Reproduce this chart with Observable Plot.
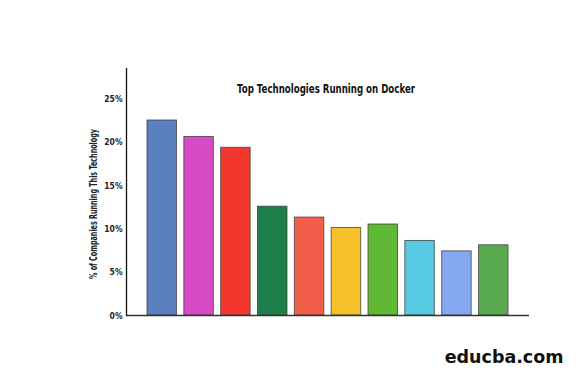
<!DOCTYPE html>
<html><head><meta charset="utf-8">
<script src="https://cdn.jsdelivr.net/npm/d3@7"></script>
<script src="https://cdn.jsdelivr.net/npm/@observablehq/plot@0.6"></script>
<style>
html,body{margin:0;padding:0;background:#fff;}
#chart{position:relative;width:585px;height:378px;}
</style>
</head><body>
<div id="chart"></div>
<script>
const technologies = ["NGINX","Redis","Postgres","Elasticsearch","MongoDB","MySQL","etcd","RabbitMQ","HAProxy","Kafka"];
const shares = [22.5, 20.6, 19.35, 12.55, 11.3, 10.1, 10.5, 8.6, 7.4, 8.1];
const colors = ["#5b7fbf","#d94bc4","#f3372f","#1e7f4a","#f25e49","#f5c02a","#60b935","#57cbe3","#84a9f0","#5aab4f"];
const yTicks = [0, 5, 10, 15, 20, 25];
const titleText = ["Top Technologies Running on Docker"];
const yLabel = ["% of Companies Running This Technology"];
const watermark = ["educba.com"];

const data = technologies.map((t, i) => ({tech: t, share: shares[i], color: colors[i]}));
const font = "'DejaVu Sans',sans-serif";

const chart = Plot.plot({
  width: 585,
  height: 378,
  marginLeft: 126,
  marginRight: 56,
  marginTop: 68,
  marginBottom: 63,
  style: {fontFamily: font, background: "#fff"},
  x: {domain: technologies, paddingInner: 0.2, paddingOuter: 0.57, round: false, axis: null},
  y: {domain: [0, 28.5], axis: null},
  marks: [
    Plot.barY(data, {x: "tech", y: "share", fill: "color", stroke: "#3a3a3a", strokeWidth: 1, strokeOpacity: 0.75}),
    Plot.ruleY([0], {stroke: "#333", strokeWidth: 1.3}),
    Plot.frame({anchor: "left", stroke: "#111", strokeWidth: 1.3}),
    Plot.axisY(yTicks, {tickSize: 0, tickPadding: 4, tickFormat: d => d + "%", fontWeight: "bold", fontSize: 9.5, fill: "#222", label: null, className: "cond-ticks"}),
    Plot.text(yLabel, {frameAnchor: "left", textAnchor: "middle", rotate: -90, dx: -33, dy: 12, fontWeight: "bold", fontSize: 10.5, fill: "#222", className: "cond-ylabel"}),
    Plot.text(titleText, {frameAnchor: "top", dx: -2, dy: 16, fontWeight: "bold", fontSize: 12.5, fill: "#111", className: "cond-title"}),
    Plot.text(watermark, {frameAnchor: "bottom-right", dx: 34, dy: 47, textAnchor: "end", fontWeight: "bold", fontSize: 17.5, fill: "#111"})
  ]
});
document.getElementById("chart").appendChild(chart);

// emulate the reference's condensed font by narrowing glyphs
const condense = [["cond-ticks", 0.8], ["cond-ylabel", null, 150], ["cond-title", null, 178]];
for (const [cls, factor, target] of condense) {
  chart.querySelectorAll("." + cls + " text").forEach(t => {
    const len = t.getComputedTextLength();
    t.setAttribute("textLength", target != null ? target : len * factor);
    t.setAttribute("lengthAdjust", "spacingAndGlyphs");
  });
}
</script>
</body></html>
